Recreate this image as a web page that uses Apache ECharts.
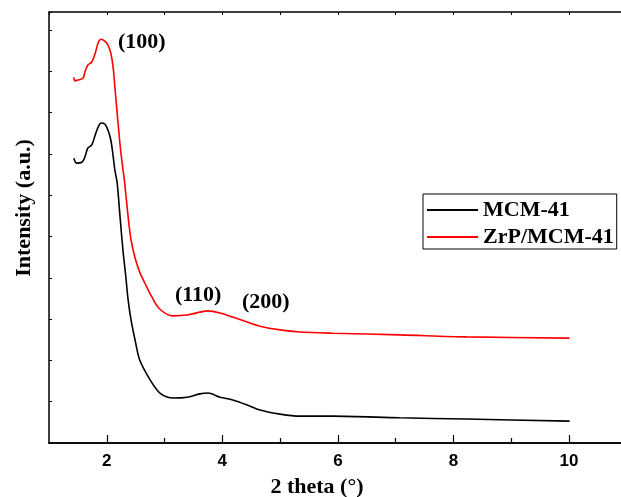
<!DOCTYPE html>
<html>
<head>
<meta charset="utf-8">
<script src="https://cdn.jsdelivr.net/npm/echarts@6/dist/echarts.min.js"></script>
<style>
  html, body { margin: 0; padding: 0; background: #fff; }
  #graficas { width: 621px; height: 497px; }
</style>
</head>
<body>
<div id="graficas"></div>
<script>
// datos (2 theta, intensidad en u.a.)
const mcmTheta = [1.43, 1.48, 1.57, 1.62, 1.67, 1.74, 1.80, 1.85, 1.90, 1.97, 2.02, 2.07, 2.11, 2.14, 2.18, 2.23, 2.28, 2.33, 2.37, 2.42, 2.49, 2.57, 2.75, 2.92, 3.15, 3.39, 3.61, 3.75, 3.96, 4.18, 4.43, 4.65, 5.00, 5.34, 5.91, 7.07, 8.23, 10.01];
const mcmIntensity = [6.90, 6.78, 6.80, 6.92, 7.14, 7.22, 7.46, 7.65, 7.75, 7.72, 7.58, 7.34, 6.95, 6.61, 6.30, 5.47, 4.67, 4.02, 3.46, 2.98, 2.49, 2.01, 1.53, 1.21, 1.09, 1.11, 1.19, 1.21, 1.11, 1.04, 0.92, 0.80, 0.70, 0.65, 0.65, 0.61, 0.58, 0.53];

const zrpTheta = [1.43, 1.45, 1.50, 1.59, 1.62, 1.67, 1.74, 1.80, 1.85, 1.90, 1.97, 2.02, 2.07, 2.11, 2.14, 2.18, 2.23, 2.26, 2.31, 2.37, 2.42, 2.49, 2.57, 2.66, 2.78, 2.92, 3.15, 3.39, 3.61, 3.75, 3.96, 4.18, 4.43, 4.65, 5.00, 5.34, 5.91, 7.07, 8.23, 10.01];
const zrpIntensity = [8.86, 8.77, 8.79, 8.84, 8.98, 9.15, 9.23, 9.44, 9.69, 9.78, 9.73, 9.64, 9.44, 9.10, 8.62, 7.99, 7.22, 6.85, 6.30, 5.47, 4.92, 4.48, 4.14, 3.87, 3.54, 3.24, 3.08, 3.10, 3.17, 3.20, 3.15, 3.05, 2.93, 2.83, 2.74, 2.69, 2.66, 2.62, 2.57, 2.54];

const seriesNames = ["MCM-41", "ZrP/MCM-41"];
const xMajorTicks = [2, 4, 6, 8, 10];
const xMinorTicks = [3, 5, 7, 9];

const serif = "Liberation Serif";
const sans = "Liberation Sans";

const pares = (xs, ys) => xs.map((x, i) => [x, ys[i]]);

const chart = echarts.init(document.querySelector("#graficas"), null, { renderer: "canvas" });

const ejeX = (extra) => Object.assign({
  type: "value",
  min: 1,
  max: 10.9,
  interval: 1,
  splitLine: { show: false },
  axisLine: { lineStyle: { color: "#000", width: 1.5 } }
}, extra);

chart.setOption({
  animation: false,
  backgroundColor: "#fff",
  grid: { left: 49, right: 0, top: 12, bottom: 54 },
  legend: {
    orient: "vertical",
    left: 423,
    top: 194,
    data: seriesNames,
    icon: "rect",
    itemWidth: 51,
    itemHeight: 2,
    itemGap: 5,
    padding: [5, 3, 1, 4],
    borderColor: "#000",
    borderWidth: 1,
    borderRadius: 0,
    textStyle: { fontFamily: serif, fontWeight: "bold", fontSize: 22, lineHeight: 22, color: "#000" }
  },
  xAxis: [
    ejeX({
      position: "bottom",
      axisTick: { inside: true, length: 8, customValues: xMajorTicks, lineStyle: { color: "#000", width: 1.2 } },
      axisLabel: {
        margin: 10,
        customValues: xMajorTicks,
        fontFamily: sans,
        fontWeight: "bold",
        fontSize: 17,
        color: "#000"
      }
    }),
    ejeX({
      position: "bottom",
      axisTick: { inside: true, length: 5, customValues: xMinorTicks, lineStyle: { color: "#000", width: 1.2 } },
      axisLabel: { show: false }
    }),
    ejeX({
      position: "top",
      axisTick: { inside: true, length: 3, lineStyle: { color: "#000", width: 1 } },
      axisLabel: { show: false }
    })
  ],
  yAxis: {
    type: "value",
    min: 0,
    max: 10.44,
    interval: 1,
    axisLine: { show: true, lineStyle: { color: "#000", width: 1.5 } },
    axisTick: { show: true, inside: true, length: 3, lineStyle: { color: "#000", width: 1 } },
    splitLine: { show: false },
    axisLabel: { show: false }
  },
  series: [
    {
      name: seriesNames[0],
      type: "line",
      data: pares(mcmTheta, mcmIntensity),
      showSymbol: false,
      smooth: 0.3,
      color: "#000",
      lineStyle: { color: "#000", width: 1.6 }
    },
    {
      name: seriesNames[1],
      type: "line",
      data: pares(zrpTheta, zrpIntensity),
      showSymbol: false,
      smooth: 0.3,
      color: "#ff0000",
      lineStyle: { color: "#ff0000", width: 1.6 }
    }
  ],
  graphic: [
    { type: "text", x: 118, y: 42, style: { text: "(100)", font: "bold 22px " + serif, fill: "#000", verticalAlign: "middle" } },
    { type: "text", x: 175, y: 295, style: { text: "(110)", font: "bold 22px " + serif, fill: "#000", verticalAlign: "middle" } },
    { type: "text", x: 242, y: 302, style: { text: "(200)", font: "bold 22px " + serif, fill: "#000", verticalAlign: "middle" } },
    {
      type: "text",
      x: 24, y: 208,
      rotation: Math.PI / 2,
      style: { text: "Intensity (a.u.)", font: "bold 22px " + serif, fill: "#000", align: "center", verticalAlign: "middle" }
    },
    {
      type: "text",
      x: 317, y: 487,
      style: { text: "2 theta (°)", font: "bold 22px " + serif, fill: "#000", align: "center", verticalAlign: "middle" }
    }
  ]
});
</script>
</body>
</html>
